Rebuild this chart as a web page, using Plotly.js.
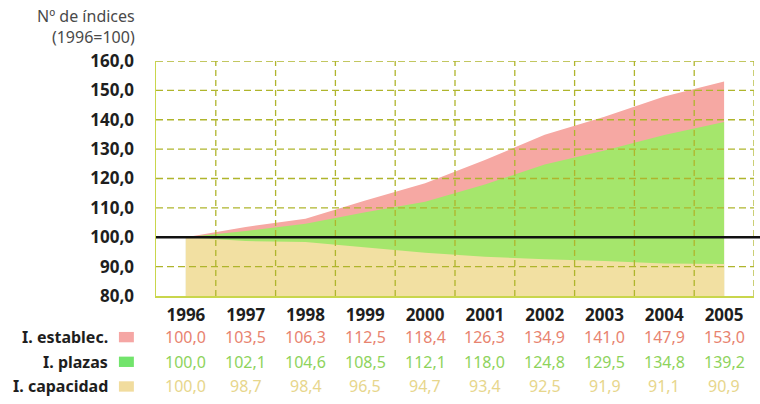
<!DOCTYPE html>
<html>
<head>
<meta charset="utf-8">
<script src="https://cdn.plot.ly/plotly-3.0.1.min.js"></script>
<style>html,body{margin:0;padding:0;background:#fff;}#chart{width:760px;height:404px;}</style>
</head>
<body>
<div id="chart"></div>
<script>
var years = ['1996','1997','1998','1999','2000','2001','2002','2003','2004','2005'];
var establec = [100.0,103.5,106.3,112.5,118.4,126.3,134.9,141.0,147.9,153.0];
var plazas = [100.0,102.1,104.6,108.5,112.1,118.0,124.8,129.5,134.8,139.2];
var capacidad = [100.0,98.7,98.4,96.5,94.7,93.4,92.5,91.9,91.1,90.9];
var rowLabels = ['I. establec.','I. plazas','I. capacidad'];
var yTicks = [80,90,100,110,120,130,140,150,160];

var areaCols = ['#f6a8a3','#a5e66c','#f2e0a2'];
var squareCols = ['#f5a6a4','#72e46c','#f1dc9e'];
var textCols = ['#e8836f','#8ed35c','#e7d68c'];
var series = [establec, plazas, capacidad];

var idx = years.map(function(_, i){ return i; });
var fmt = function(v){ return v.toFixed(1).replace('.', ','); };

var traces = series.map(function(s, k){
  return {x: idx, y: s, type: 'scatter', mode: 'lines', fill: 'tozeroy',
          fillcolor: areaCols[k], line: {width: 0, color: areaCols[k]}, hoverinfo: 'skip', showlegend: false};
});

var F = '"Noto Sans", "Open Sans", sans-serif';
var GRID = '#afb52c';
var annotations = [];
annotations.push({xref:'paper', yref:'paper', x:-0.032, y:1.245, xanchor:'right', yanchor:'top',
  text:'Nº de índices<br>(1996=100)', showarrow:false, align:'right',
  font:{family:F, size:16, color:'#4a4a4a'}});
var rowY = [-0.175, -0.28, -0.385];
series.forEach(function(s, k){
  s.forEach(function(v, i){
    annotations.push({xref:'x', yref:'paper', x:i, y:rowY[k], text:fmt(v), showarrow:false,
      xanchor:'center', yanchor:'middle', font:{family:F, size:16, color:textCols[k]}});
  });
  annotations.push({xref:'paper', yref:'paper', x:-0.077, y:rowY[k], text:'<b>'+rowLabels[k]+'</b>',
    showarrow:false, xanchor:'right', yanchor:'middle', font:{family:F, size:16, color:'#1e1e1e'}});
});

var shapes = [];
// vertical dashed gridlines between categories
idx.forEach(function(i){
  shapes.push({type:'line', xref:'x', yref:'paper', x0:i+0.5, x1:i+0.5, y0:0, y1:1, layer:'above',
    line:{color:GRID, width:1.3, dash:'6px,4px'}});
});
// horizontal dashed gridlines
yTicks.forEach(function(t){
  if (t === yTicks[0] || t === 100) return;
  shapes.push({type:'line', xref:'paper', yref:'y', x0:0, x1:1, y0:t, y1:t, layer:'above',
    line:{color:GRID, width:1.3, dash:'7px,4px'}});
});
series.forEach(function(s, k){
  shapes.push({type:'rect', xref:'paper', yref:'paper', x0:-0.062, x1:-0.037,
    y0:rowY[k]-0.022, y1:rowY[k]+0.022, fillcolor:squareCols[k], line:{width:0}});
});
shapes.push({type:'line', xref:'paper', yref:'y', x0:0, x1:1.012, y0:100, y1:100,
  line:{color:'#111', width:2.5}});

var layout = {
  width: 760, height: 404,
  margin: {l:156, r:6, t:61, b:108},
  paper_bgcolor:'#fff', plot_bgcolor:'#fff',
  separators: ',.',
  showlegend: false,
  xaxis: {range:[-0.5, 9.5], tickvals: idx, ticktext: years, showgrid:false, zeroline:false,
    showline:true, linecolor:'#c9d64c', linewidth:1.5, ticks:'', ticklabelstandoff:3,
    tickfont:{family:F, size:17, color:'#1e1e1e', weight:'bold'}},
  yaxis: {range:[80,160], tickvals:yTicks, tickformat:'.1f', showgrid:false,
    zeroline:false, showline:true, linecolor:'#c9d64c', linewidth:1.5,
    ticks:'', ticklabelstandoff:17, tickfont:{family:F, size:17, color:'#1e1e1e', weight:'bold'}},
  annotations: annotations,
  shapes: shapes
};
Plotly.newPlot('chart', traces, layout, {displayModeBar:false, staticPlot:true});
</script>
</body>
</html>
